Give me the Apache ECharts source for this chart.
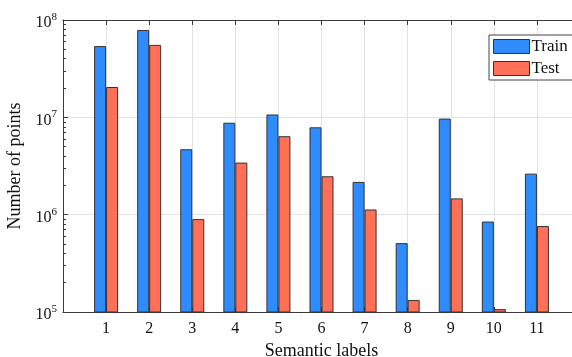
<!DOCTYPE html>
<html>
<head>
<meta charset="utf-8">
<script src="https://cdn.jsdelivr.net/npm/echarts@6/dist/echarts.min.js"></script>
<style>html,body{margin:0;padding:0;background:#fff;}#chart{width:572px;height:357px;}</style>
</head>
<body>
<div id="chart"></div>
<script>
const categories = ['1', '2', '3', '4', '5', '6', '7', '8', '9', '10', '11'];
const trainValues = [5.4e7, 7.9e7, 4.7e6, 8.8e6, 1.07e7, 7.9e6, 2.17e6, 5.1e5, 9.7e6, 8.5e5, 2.64e6];
const testValues = [2.05e7, 5.55e7, 9.0e5, 3.43e6, 6.4e6, 2.48e6, 1.13e6, 1.33e5, 1.47e6, 1.07e5, 7.65e5];
const yExponents = ['5', '6', '7', '8'];
const minorMultipliers = [2, 3, 4, 5, 6, 7, 8, 9];
const seriesNames = ['Train', 'Test'];

const FONT = 'Liberation Serif';
const axisColor = '#3a3a3a';
const gridColor = '#e2e2e2';

const toPairs = vals => categories.map((c, i) => [Number(c), vals[i]]);
const minorTickValues = [];
yExponents.slice(0, -1).forEach(e => minorMultipliers.forEach(m => minorTickValues.push(m * Math.pow(10, Number(e)))));

const chart = echarts.init(document.getElementById('chart'), null, {renderer: 'canvas'});
chart.setOption({
  animation: false,
  backgroundColor: '#fff',
  grid: {left: 63, top: 20, right: -8, bottom: 45, containLabel: false, outerBoundsMode: 'none'},
  legend: {
    orient: 'vertical',
    left: 489, top: 35,
    itemWidth: 36, itemHeight: 14, itemGap: 5,
    padding: [3, 6, 3, 4],
    borderColor: '#444', borderWidth: 1, backgroundColor: '#fff',
    icon: 'rect',
    itemStyle: {borderColor: '#333', borderWidth: 1},
    textStyle: {fontFamily: FONT, fontSize: 17, lineHeight: 14, color: '#111', padding: [0, 0, 0, -3]},
    data: seriesNames
  },
  xAxis: [{
    type: 'value', min: 0, max: 12, interval: 1, position: 'bottom',
    name: 'Semantic labels', nameLocation: 'middle', nameGap: 28,
    nameTextStyle: {fontFamily: FONT, fontSize: 18, color: '#111'},
    axisLine: {show: true, onZero: false, lineStyle: {color: axisColor, width: 1}},
    axisTick: {show: true, inside: true, length: 5, lineStyle: {color: axisColor}},
    axisLabel: {
      margin: 9, fontFamily: FONT, fontSize: 16, color: '#111',
      formatter: v => (v >= 1 && v <= categories.length) ? categories[v - 1] : ''
    },
    splitLine: {show: true, lineStyle: {color: gridColor, width: 1}}
  }, {
    type: 'value', min: 0, max: 12, interval: 1, position: 'top',
    axisLine: {show: true, onZero: false, lineStyle: {color: axisColor, width: 1}},
    axisTick: {show: true, inside: true, length: 5, lineStyle: {color: axisColor}},
    axisLabel: {show: false},
    splitLine: {show: false}
  }],
  yAxis: [{
    type: 'log', logBase: 10, min: 1e5, max: 1e8,
    name: 'Number of points', nameLocation: 'middle', nameGap: 36,
    nameTextStyle: {fontFamily: FONT, fontSize: 18, color: '#111'},
    axisLine: {show: true, onZero: false, lineStyle: {color: axisColor, width: 1}},
    axisTick: {show: true, inside: true, length: 5, lineStyle: {color: axisColor}},
    axisLabel: {
      margin: 6, fontFamily: FONT, fontSize: 16, color: '#111',
      formatter: v => {
        const e = String(Math.round(Math.log10(v)));
        const lab = yExponents.indexOf(e) >= 0 ? e : '';
        return '{b|10}{s|' + lab + '}';
      },
      rich: {
        b: {fontFamily: FONT, fontSize: 16, color: '#111', padding: [6, 0, 0, 0]},
        s: {fontFamily: FONT, fontSize: 11, color: '#111', padding: [0, 0, 6, 0]}
      }
    },
    splitLine: {show: true, lineStyle: {color: gridColor, width: 1}}
  }, {
    type: 'log', logBase: 10, min: 1e5, max: 1e8, position: 'left',
    axisLine: {show: false},
    axisTick: {show: true, inside: true, length: 3, customValues: minorTickValues, lineStyle: {color: axisColor, width: 1}},
    axisLabel: {show: false},
    splitLine: {show: false}
  }],
  series: [{
    name: seriesNames[0], type: 'bar', xAxisIndex: 0, yAxisIndex: 0,
    barWidth: 12, barGap: '0%',
    itemStyle: {color: '#2F8CFF', borderColor: '#333', borderWidth: 1},
    data: toPairs(trainValues)
  }, {
    name: seriesNames[1], type: 'bar', xAxisIndex: 0, yAxisIndex: 0,
    barWidth: 12, barGap: '0%',
    itemStyle: {color: '#FF7058', borderColor: '#333', borderWidth: 1},
    data: toPairs(testValues)
  }]
});
</script>
</body>
</html>
